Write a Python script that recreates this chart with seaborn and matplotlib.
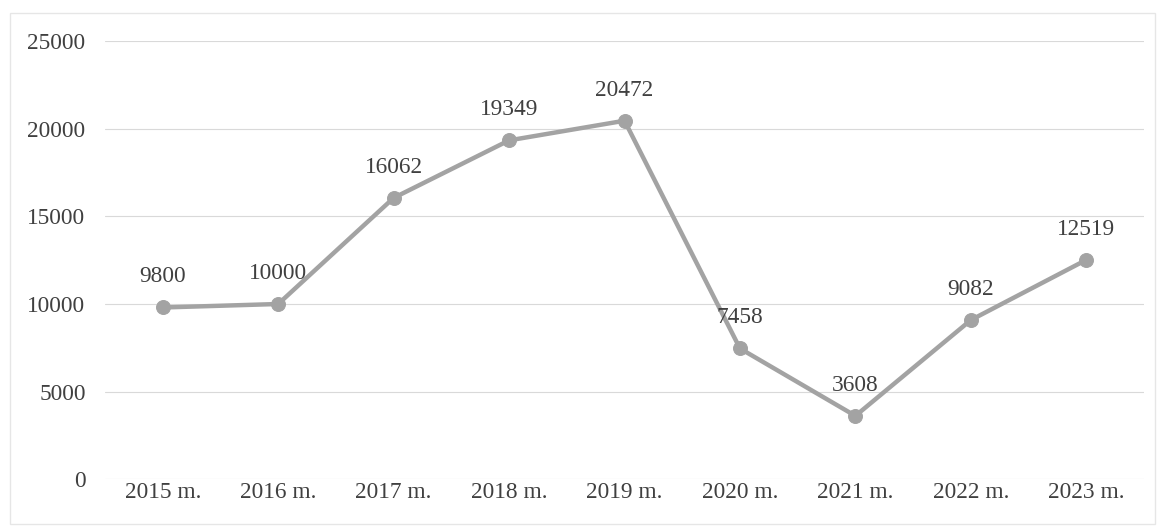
import matplotlib
matplotlib.use("Agg")
import matplotlib.pyplot as plt
import seaborn as sns
import pandas as pd
from matplotlib.patches import Rectangle

years = ["2015 m.", "2016 m.", "2017 m.", "2018 m.", "2019 m.",
         "2020 m.", "2021 m.", "2022 m.", "2023 m."]
values = [9800, 10000, 16062, 19349, 20472, 7458, 3608, 9082, 12519]
y_ticks = [0, 5000, 10000, 15000, 20000, 25000]

df = pd.DataFrame({"year": years, "value": values})

sns.set_theme(style="white")
plt.rcParams["font.family"] = ["Liberation Serif", "DejaVu Serif"]

text_color = "#404040"
line_color = "#a3a3a3"

fig = plt.figure(figsize=(11.62, 5.29), dpi=100)
ax = fig.add_axes([0.0904, 0.0945, 0.8941, 0.8271])

# faint chart border like the scanned original
fig.patches.append(Rectangle((0.009, 0.01), 0.985, 0.965, transform=fig.transFigure,
                             fill=False, edgecolor="#e6e6e6", linewidth=1))

sns.lineplot(data=df, x="year", y="value", sort=False, ax=ax,
             color=line_color, linewidth=3.2, marker="o", markersize=10,
             markeredgecolor=line_color, markerfacecolor=line_color)

for i, v in enumerate(values):
    ax.annotate(str(v), xy=(i, v), xytext=(0, 22), textcoords="offset points",
                ha="center", va="center", fontsize=16.8, color=text_color)

ax.set_xlim(-0.5, len(years) - 0.5)
ax.set_ylim(0, 25000)
ax.set_yticks(y_ticks)
ax.set_yticklabels([str(t) for t in y_ticks])
ax.yaxis.grid(True, color="#d9d9d9", linewidth=0.8)
ax.xaxis.grid(False)
ax.set_axisbelow(True)
for s in ax.spines.values():
    s.set_visible(False)

ax.tick_params(axis="y", length=0, pad=14, labelsize=16.8, labelcolor=text_color)
ax.tick_params(axis="x", length=0, pad=2, labelsize=16.8, labelcolor=text_color)
ax.set_xlabel("")
ax.set_ylabel("")

fig.savefig("out.png", dpi=100)
